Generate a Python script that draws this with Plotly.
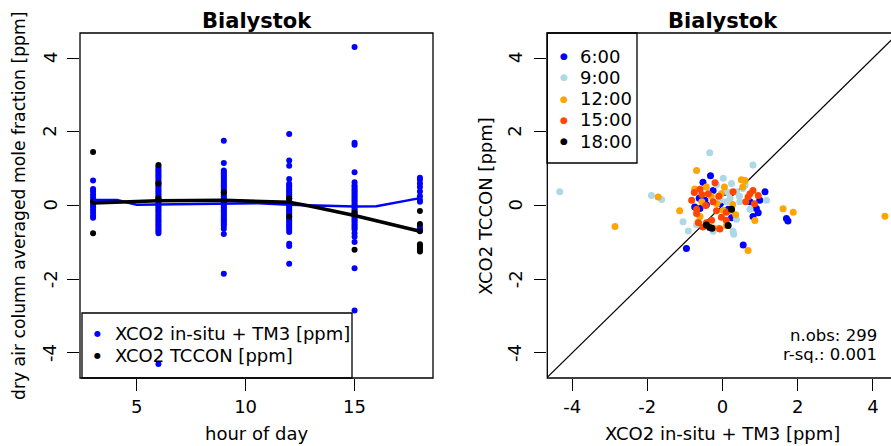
import plotly.graph_objects as go

W, H = 891, 446
FONT = "DejaVu Sans"
FS = 18

# ---- left panel: model (in-situ + TM3) and TCCON XCO2 anomalies by hour of day ----
hours = [3, 6, 9, 12, 15, 18]

insitu_h03 = [0.68, 0.45, 0.38, 0.30, 0.22, 0.15, 0.08, 0.00, -0.05, -0.12, -0.20, -0.28, -0.33]
insitu_h06 = [1.05, 1.0, 0.95, 0.9, 0.85, 0.8, 0.75, 0.7, 0.65, 0.6, 0.55, 0.5, 0.45, 0.4, 0.35,
              0.3, 0.25, 0.2, 0.15, 0.1, 0.05, 0.0, -0.05, -0.1, -0.15, -0.2, -0.25, -0.3, -0.35,
              -0.4, -0.45, -0.5, -0.55, -0.6, -0.65, -0.7, -0.75, -4.30]
insitu_h09 = [1.76, 1.15, 0.95, 0.9, 0.85, 0.8, 0.75, 0.7, 0.65, 0.6, 0.55, 0.5, 0.45, 0.4, 0.35,
              0.3, 0.25, 0.2, 0.15, 0.1, 0.05, 0.0, -0.05, -0.1, -0.15, -0.2, -0.25, -0.3, -0.35,
              -0.4, -0.45, -0.5, -0.55, -0.63, -0.77, -1.85]
insitu_h12 = [1.94, 1.22, 1.08, 0.72, 0.59, 0.55, 0.5, 0.45, 0.4, 0.35, 0.3, 0.25, 0.2, 0.15, 0.1,
              0.05, 0.0, -0.05, -0.1, -0.15, -0.2, -0.25, -0.3, -0.35, -0.4, -0.45, -0.5, -0.55,
              -0.6, -0.65, -0.72, -1.04, -1.10, -1.58]
insitu_h15 = [4.30, 1.70, 1.65, 0.90, 0.63, 0.55, 0.5, 0.45, 0.4, 0.35, 0.3, 0.25, 0.2, 0.15, 0.1,
              0.05, 0.0, -0.05, -0.1, -0.15, -0.2, -0.25, -0.3, -0.35, -0.4, -0.45, -0.5, -0.55,
              -0.6, -0.65, -0.75, -0.85, -0.99, -1.70, -2.85]
insitu_h18 = [0.75, 0.70, 0.60, 0.50, 0.38, 0.25, 0.15, 0.10, -0.55, -0.62, -0.68]

tccon_h03 = [1.45, 0.10, -0.75]
tccon_h06 = [1.10, 0.60, 0.20]
tccon_h09 = [0.35, 0.10]
tccon_h12 = [0.20, -0.30]
tccon_h15 = [-0.20, -1.20]
tccon_h18 = [-0.15, -0.50, -0.70, -1.05, -1.10, -1.15, -1.20, -1.25]

# smoothed diurnal curves
insitu_curve_hours = [3, 4.1, 5.0, 7.6, 10.6, 12, 15, 16, 18]
insitu_curve = [0.15, 0.15, 0.02, 0.03, 0.06, 0.02, -0.03, -0.02, 0.20]
tccon_curve_hours = [3, 6, 9, 12, 13, 15, 18]
tccon_curve = [0.07, 0.13, 0.14, 0.09, -0.02, -0.27, -0.70]

# ---- right panel: TCCON vs in-situ + TM3, by hour ----
h06_x = [-0.32, -0.52, -0.25, -0.47, -0.74, -0.07, 1.13, 0.99, 0.90, 0.81, 1.70, 1.74, 0.55,
         -0.96, 0.15, 0.73, 0.24, -0.43, -0.60, 0.05, -0.62, 0.95]
h06_y = [0.81, 0.63, 0.41, 0.14, -0.04, 0.05, 0.37, 0.14, -0.08, -0.30, -0.35, -0.42, -1.07,
         -1.17, -0.10, 0.10, -0.33, 0.02, -0.08, 0.35, 0.20, -0.20]
h09_x = [-4.33, -1.89, -1.62, -0.34, 0.81, 1.17, -1.05, -0.91, 0.28, 0.24, 0.37, 0.54, 0.06,
         0.46, 0.10, -0.16, -0.69, -0.25, 0.37, -0.60, 0.73, 0.02, 0.30, 0.20, 0.15, 0.45,
         -0.05, 0.60]
h09_y = [0.37, 0.27, 0.16, 1.43, 1.10, 0.14, -0.44, -0.69, -0.70, 0.60, 0.37, 0.46, 0.40,
         0.10, 0.10, 0.56, -0.52, -0.70, -0.37, -0.30, -0.10, 0.74, -0.78, 0.20, 0.35, 0.25,
         0.15, 0.55]
h12_x = [-0.69, -1.71, -2.86, -1.14, 1.61, 1.88, 4.32, 0.68, 0.86, 0.50, -0.74, -0.03, 0.02,
         0.24, -0.25, 0.27, -0.60, 0.10, 0.54, -0.43, -0.10, 0.60, -0.55, -0.30, 0.35, -0.15,
         0.05, -0.65]
h12_y = [0.95, 0.23, -0.57, -0.14, -0.09, -0.18, -0.29, -1.22, -0.41, 0.70, 0.45, 0.32, -0.13,
         -0.13, -0.61, 0.03, -0.30, -0.54, 0.50, 0.50, -0.62, 0.68, 0.10, 0.25, -0.25, 0.05,
         0.50, -0.45]
h15_x = [-0.82, -0.69, -0.52, -0.29, -0.20, -0.60, -0.16, -0.03, 0.10, 0.73, 0.81, 0.68, 0.95,
         -0.43, -0.69, -0.38, 0.28, -0.25, -0.07, 0.10, -0.64, -0.55, 0.85, -0.45, -0.10,
         0.62, -0.75]
h15_y = [0.14, -0.22, -0.58, -0.40, 0.62, 0.44, -0.14, -0.32, -0.18, 0.32, 0.41, 0.23, 0.27,
         -0.47, -0.10, 0.32, 0.37, 0.10, -0.64, -0.40, -0.47, 0.30, 0.05, 0.00, 0.25,
         0.10, 0.35]
h18_x = [-0.34, 0.15, 0.24, -0.43, -0.28]
h18_y = [-0.60, -0.54, -0.10, -0.53, -0.62]

n_obs = 299
r_sq = 0.001

hour_labels = ["6:00", "9:00", "12:00", "15:00", "18:00"]
hour_colors = ["#0000FF", "#ADD8E6", "#FFA500", "#FF4500", "#000000"]

y_ticks = [-4, -2, 0, 2, 4]
x_ticks_left = [5, 10, 15]
x_ticks_right = [-4, -2, 0, 2, 4]

AX_LIM = 4.68


def flat(groups):
    xs, ys = [], []
    for h, vals in zip(hours, groups):
        xs += [h] * len(vals)
        ys += vals
    return xs, ys


ins_x, ins_y = flat([insitu_h03, insitu_h06, insitu_h09, insitu_h12, insitu_h15, insitu_h18])
tc_x, tc_y = flat([tccon_h03, tccon_h06, tccon_h09, tccon_h12, tccon_h15, tccon_h18])

fig = go.Figure()

fig.add_trace(go.Scatter(x=ins_x, y=ins_y, mode="markers", xaxis="x", yaxis="y",
                         marker=dict(color="#0000FF", size=6), showlegend=False))
fig.add_trace(go.Scatter(x=tc_x, y=tc_y, mode="markers", xaxis="x", yaxis="y",
                         marker=dict(color="#000000", size=6), showlegend=False))
fig.add_trace(go.Scatter(x=insitu_curve_hours, y=insitu_curve, mode="lines", xaxis="x", yaxis="y",
                         line=dict(color="#0000FF", width=2.5), showlegend=False))
fig.add_trace(go.Scatter(x=tccon_curve_hours, y=tccon_curve, mode="lines", xaxis="x", yaxis="y",
                         line=dict(color="#000000", width=3.5), showlegend=False))

# 1:1 line
fig.add_trace(go.Scatter(x=[-AX_LIM, AX_LIM], y=[-AX_LIM, AX_LIM], mode="lines",
                         xaxis="x2", yaxis="y2", line=dict(color="#000000", width=1.2),
                         showlegend=False))
for xs, ys, col in zip([h06_x, h09_x, h12_x, h15_x, h18_x], [h06_y, h09_y, h12_y, h15_y, h18_y],
                       hour_colors):
    fig.add_trace(go.Scatter(x=xs, y=ys, mode="markers", xaxis="x2", yaxis="y2",
                             marker=dict(color=col, size=7), showlegend=False))


def px(x):
    return x / W


def py(y):
    return 1 - y / H


Y_DOM = [py(378), py(33)]

axis_common = dict(ticks="outside", ticklen=12, tickwidth=1.3, tickcolor="black",
                   showgrid=False, zeroline=False, showline=False,
                   tickfont=dict(family=FONT, size=FS, color="black"))


def hyphen(v):
    return str(v).replace("\u2212", "-")


fig.update_layout(
    width=W, height=H, margin=dict(l=0, r=0, t=0, b=0),
    paper_bgcolor="white", plot_bgcolor="white",
    xaxis=dict(domain=[px(80), px(433)], range=[2.4, 18.6], tickvals=x_ticks_left,
               ticktext=[hyphen(v) for v in x_ticks_left], anchor="y", **axis_common),
    yaxis=dict(domain=Y_DOM, range=[-AX_LIM, AX_LIM], tickvals=y_ticks, showticklabels=False,
               anchor="x", **axis_common),
    xaxis2=dict(domain=[px(547.3), 1], range=[-4.66, -4.66 + (891 - 547.3) / 37.6],
                tickvals=x_ticks_right, ticktext=[hyphen(v) for v in x_ticks_right],
                anchor="y2", **axis_common),
    yaxis2=dict(domain=Y_DOM, range=[-AX_LIM, AX_LIM], tickvals=y_ticks, showticklabels=False,
                anchor="x2", **axis_common),
)

shapes = []
# panel frames
shapes.append(dict(type="rect", xref="x domain", yref="y domain", x0=0, x1=1, y0=0, y1=1,
                   line=dict(color="black", width=1.3)))
shapes.append(dict(type="rect", xref="x2 domain", yref="y2 domain", x0=0, x1=1.05, y0=0, y1=1,
                   line=dict(color="black", width=1.3)))
# legend boxes
shapes.append(dict(type="rect", xref="paper", yref="paper", x0=px(82), x1=px(352),
                   y0=py(378), y1=py(313), line=dict(color="black", width=1.3)))
shapes.append(dict(type="rect", xref="paper", yref="paper", x0=px(547), x1=px(637),
                   y0=py(163), y1=py(33), line=dict(color="black", width=1.3)))

ann = []


def text(x, y, s, size=FS, xanchor="center", angle=0, color="black"):
    ann.append(dict(x=px(x), y=py(y), xref="paper", yref="paper", text=s, showarrow=False,
                    xanchor=xanchor, yanchor="middle", textangle=angle,
                    font=dict(family=FONT, size=size, color=color)))


# rotated y tick labels (parallel to the axis)
for xpos, yref in [(50, "y"), (515, "y2")]:
    for v in y_ticks:
        ann.append(dict(x=px(xpos), y=v, xref="paper", yref=yref, text=hyphen(v),
                        showarrow=False, textangle=-90, xanchor="center", yanchor="middle",
                        font=dict(family=FONT, size=FS, color="black")))

# titles
text(256.5, 21, "<b>Bialystok</b>", size=21)
text(722.7, 21, "<b>Bialystok</b>", size=21)
text(256.5, 433, "hour of day")
text(722.7, 433, "XCO2 in-situ + TM3 [ppm]")
text(19, 206, "dry air column averaged mole fraction [ppm]", size=17.2, angle=-90)
text(485, 206, "XCO2 TCCON [ppm]", angle=-90)

# legend, left panel
left_entries = [("XCO2 in-situ + TM3 [ppm]", "#0000FF"), ("XCO2 TCCON [ppm]", "#000000")]
for i, (lab, col) in enumerate(left_entries):
    yy = 333 + 22 * i
    text(97, yy, "●", size=8, color=col)
    text(113, yy, lab, xanchor="left")

# legend, right panel
for i, (lab, col) in enumerate(zip(hour_labels, hour_colors)):
    yy = 56 + 21.3 * i
    text(564, yy, "●", size=9, color=col)
    text(578, yy, lab, xanchor="left")

# fit statistics
text(879, 335, f"n.obs: {n_obs}", size=16.5, xanchor="right")
text(879, 354, f"r-sq.: {r_sq:.3f}", size=16.5, xanchor="right")

fig.update_layout(shapes=shapes, annotations=ann)
fig.write_html("out.html")
